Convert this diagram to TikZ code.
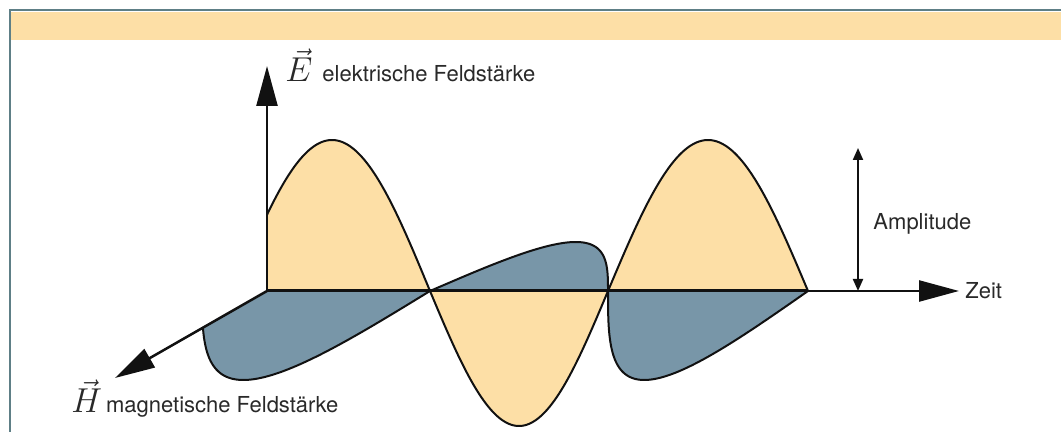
\documentclass[tikz,border=0pt]{standalone}
\usepackage{fontspec}
\setmainfont{TeX Gyre Heros}
\usetikzlibrary{arrows.meta}
\definecolor{ink}{HTML}{111111}
\definecolor{efield}{HTML}{FDDFA6}
\definecolor{hfield}{HTML}{7896A8}
\definecolor{rim}{HTML}{5E7F86}
\tikzset{
  lbl/.style={font=\fontsize{11}{13}\selectfont, text=ink!90, inner sep=0pt},
  wave/.style={draw=ink, line width=1pt, line join=round},
  axis/.style={draw=ink, line width=1.25pt, -{Triangle[length=20pt,width=10.5pt]}},
  base/.style={draw=ink, line width=1.5pt},
  ampl/.style={draw=ink, line width=1pt, {Triangle[length=6pt,width=5pt]}-{Triangle[length=6pt,width=5pt]}},
}
\newcommand{\fieldsym}[1]{{\fontsize{16}{18}\selectfont$\vec{#1}$}}

\begin{document}
\begin{tikzpicture}[x=0.5pt, y=-0.5pt]
\useasboundingbox (0,0) rectangle (1061,432);

% ---------------- frame ----------------
\fill[efield] (10,12) rectangle (1061,40);
\draw[rim, line width=1pt] (9.5,432) -- (9.5,10.5) -- (1061,10.5);

% ---------------- coordinates ----------------
\coordinate (orig) at (267,291);
\coordinate (etip) at (267,66);
\coordinate (ttip) at (959,291);
\coordinate (htip) at (115,378);
\coordinate (wend) at (808,291);
\coordinate (amptop) at (858,148);
\coordinate (ampbot) at (858,291);

% ---------------- magnetic field (horizontal plane) ----------------
\begin{scope}
  \clip (orig) -- (1061,291) -- (1061,450) -- (0,450) -- (0,443.8) -- cycle;
  \fill[hfield] plot[domain=0:180, samples=80, variable=\p] ({202+1.26667*\p-72.6*sin(\p)}, {291+89*sin(\p)}) -- cycle;
  \draw[wave] plot[domain=0:180, samples=80, variable=\p] ({202+1.26667*\p-72.6*sin(\p)}, {291+89*sin(\p)});
\end{scope}
\filldraw[wave, fill=hfield] plot[domain=0:180, samples=80, variable=\p] ({430+0.98889*\p+56.7*sin(\p)}, {291-49*sin(\p)});
\filldraw[wave, fill=hfield] plot[domain=0:180, samples=80, variable=\p] ({608+1.11111*\p-63.7*sin(\p)}, {291+89*sin(\p)});

% ---------------- electric field (vertical plane) ----------------
\fill[efield] (orig) -- plot[domain=30.3:180, samples=80, variable=\p] ({234+1.08889*\p}, {291-151*sin(\p)}) -- cycle;
\draw[wave] plot[domain=30.3:180, samples=80, variable=\p] ({234+1.08889*\p}, {291-151*sin(\p)});
\filldraw[wave, fill=efield] plot[domain=0:180, samples=80, variable=\p] ({430+0.98889*\p}, {291+135*sin(\p)});
\filldraw[wave, fill=efield] plot[domain=0:180, samples=80, variable=\p] ({608+1.11111*\p}, {291-151*sin(\p)});

% ---------------- axes ----------------
\draw[axis] (orig) -- (ttip);
\draw[base] (orig) -- (wend);
\draw[axis] (orig) -- (etip);
\draw[axis] (orig) -- (htip);
\draw[ampl] (amptop) -- (ampbot);

% ---------------- labels ----------------
\node[lbl, anchor=base west] (elab) at (285,82) {\fieldsym{E}\hspace{5pt}elektrische Feldstärke};
\node[lbl, anchor=base west] (hlab) at (71,413) {\fieldsym{H}\hspace{2pt}magnetische Feldstärke};
\node[lbl, anchor=base west] (zeit) at (965,299) {Zeit};
\node[lbl, anchor=base west] (amp) at (873,230) {Amplitude};

\end{tikzpicture}
\end{document}
